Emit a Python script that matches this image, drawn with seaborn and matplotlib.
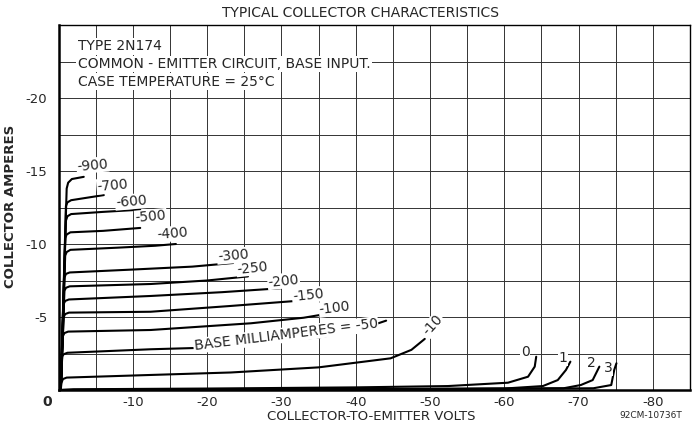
import numpy as np
import pandas as pd
import seaborn as sns
import matplotlib.pyplot as plt

# base current (mA) of each characteristic curve
curve_names = ['-900', '-700', '-600', '-500', '-400', '-300', '-250', '-200',
               '-150', '-100', '-50', '-10', '0', '1', '2', '3']

# collector-to-emitter volts for each curve
curve_volts = [
    [-0.3, -1.1, -1.3, -1.8, -3.4],
    [-0.3, -1.0, -1.2, -1.7, -6.1],
    [-0.3, -1.0, -1.2, -1.7, -6.0, -11.0],
    [-0.3, -0.9, -1.1, -1.6, -6.0, -11.0],
    [-0.3, -0.9, -1.1, -1.6, -8.0, -13.0, -15.8],
    [-0.3, -0.8, -1.0, -1.5, -10.0, -18.0, -23.5],
    [-0.3, -0.8, -1.0, -1.5, -12.4, -20.0, -25.5],
    [-0.3, -0.7, -0.9, -1.4, -12.4, -22.0, -29.9],
    [-0.3, -0.7, -0.9, -1.4, -12.4, -23.0, -33.5],
    [-0.3, -0.6, -0.8, -1.3, -12.4, -25.9, -33.0, -37.8],
    [-0.3, -0.5, -0.7, -1.2, -12.4, -20.0, -28.0, -35.0, -40.0, -44.1],
    [-0.3, -0.4, -0.6, -1.1, -12.4, -23.2, -35.0, -44.7, -47.5, -49.3],
    [-0.3, -2.0, -20.0, -40.0, -52.4, -60.5, -63.2, -64.1, -64.3],
    [-0.3, -30.0, -60.0, -65.2, -67.2, -68.3, -68.9],
    [-0.3, -40.0, -68.0, -70.3, -71.9, -72.8],
    [-0.3, -50.0, -72.0, -74.4, -74.8, -75.1],
]

# collector amperes for each curve
curve_amps = [
    [0, -13.8, -14.2, -14.45, -14.6],
    [0, -12.6, -12.85, -13.0, -13.35],
    [0, -11.6, -11.9, -12.05, -12.2, -12.35],
    [0, -10.4, -10.65, -10.8, -10.9, -11.1],
    [0, -9.2, -9.45, -9.6, -9.75, -9.88, -10.0],
    [0, -7.7, -7.95, -8.05, -8.25, -8.45, -8.7],
    [0, -6.8, -7.0, -7.1, -7.26, -7.5, -7.78],
    [0, -5.9, -6.1, -6.2, -6.44, -6.7, -6.97],
    [0, -5.0, -5.2, -5.3, -5.36, -5.75, -6.16],
    [0, -3.7, -3.9, -4.0, -4.11, -4.57, -4.95, -5.36],
    [0, -2.3, -2.45, -2.55, -2.79, -2.9, -3.3, -3.6, -4.05, -4.75],
    [0, -0.5, -0.75, -0.85, -1.03, -1.2, -1.55, -2.17, -2.75, -3.5],
    [0, -0.05, -0.1, -0.18, -0.27, -0.5, -0.91, -1.6, -2.28],
    [0, -0.05, -0.1, -0.27, -0.68, -1.37, -1.94],
    [0, -0.05, -0.12, -0.34, -0.68, -1.6],
    [0, -0.05, -0.12, -0.34, -1.37, -1.83],
]

# where each curve label sits (volts, amperes) and its tilt
label_text = ['-900', '-700', '-600', '-500', '-400', '-300', '-250', '-200',
              '-150', '-100', 'BASE MILLIAMPERES = -50', '-10', '0', '1', '2', '3']
label_v = [-4.6, -7.3, -9.8, -12.4, -15.4, -23.5, -26.1, -30.3,
           -33.6, -37.2, -30.6, -50.4, -62.8, -67.9, -71.7, -74.0]
label_i = [-15.4, -14.0, -12.9, -11.85, -10.7, -9.2, -8.36, -7.47,
           -6.5, -5.6, -3.77, -4.45, -2.6, -2.2, -1.85, -1.5]
label_rot = [5, 5, 5, 5, 5, 5, 6, 6, 6, 7, 7, 48, 0, 0, 0, 0]

x_ticks = [-10, -20, -30, -40, -50, -60, -70, -80]
y_ticks = [-5, -10, -15, -20]

rows = []
for name, vs, ia in zip(curve_names, curve_volts, curve_amps):
    for v, i in zip(vs, ia):
        rows.append({'curve': name, 'volts': v, 'amps': i})
df = pd.DataFrame(rows)

sns.set_style('white')
plt.rcParams['font.family'] = ['DejaVu Sans']

fig = plt.figure(figsize=(6.92, 4.26), dpi=100)
ax = fig.add_axes([58.5 / 692, 1 - 390 / 426, (690 - 58.5) / 692, (390 - 25) / 426])

sns.lineplot(data=df, x='volts', y='amps', units='curve', estimator=None,
             sort=False, color='black', linewidth=1.5, ax=ax, zorder=3)

ax.set_xlim(0, -85)
ax.set_ylim(0, -25)

ax.set_xticks(x_ticks)
ax.set_xticklabels([str(t) for t in x_ticks], fontsize=9.5)
ax.set_yticks(y_ticks)
ax.set_yticklabels([str(t) for t in y_ticks], fontsize=9.5)
ax.set_xticks(np.arange(-5, -85, -10), minor=True)
ax.set_yticks(np.arange(-2.5, -25, -5), minor=True)
ax.tick_params(which='both', length=0)
ax.tick_params(axis='x', pad=4)
ax.tick_params(axis='y', pad=8)
ax.grid(which='both', color='#333333', linewidth=0.7, zorder=1)

for side in ['left', 'bottom']:
    ax.spines[side].set_linewidth(1.8)
for side in ['top', 'right']:
    ax.spines[side].set_linewidth(1.0)
for sp in ax.spines.values():
    sp.set_color('black')

ax.set_xlabel('')
ax.set_ylabel('')

for txt, v, i, r in zip(label_text, label_v, label_i, label_rot):
    ax.text(v, i, txt, fontsize=10, rotation=r, ha='center', va='center',
            rotation_mode='anchor', zorder=4,
            bbox=dict(facecolor='white', edgecolor='none', pad=0.5))

info = ['TYPE 2N174', 'COMMON - EMITTER CIRCUIT, BASE INPUT.', 'CASE TEMPERATURE = 25°C']
for k, line in enumerate(info):
    ax.text(-2.6, -23.55 + 1.22 * k, line, fontsize=10, ha='left', va='center', zorder=4,
            bbox=dict(facecolor='white', edgecolor='none', pad=1.0))

fig.text(360 / 692, 1 - 13 / 426, 'TYPICAL COLLECTOR CHARACTERISTICS',
         fontsize=10, ha='center', va='center')
fig.text(11 / 692, 1 - 206 / 426, 'COLLECTOR AMPERES', fontsize=9.5, fontweight='bold',
         rotation=90, ha='center', va='center')
fig.text(371 / 692, 1 - 417 / 426, 'COLLECTOR-TO-EMITTER VOLTS', fontsize=9.5,
         ha='center', va='center')
fig.text(47 / 692, 1 - 402 / 426, '0', fontsize=10, fontweight='bold',
         ha='center', va='center')
fig.text(651 / 692, 1 - 416 / 426, '92CM-10736T', fontsize=6.5,
         ha='center', va='center')

fig.savefig('out.png', dpi=100)
